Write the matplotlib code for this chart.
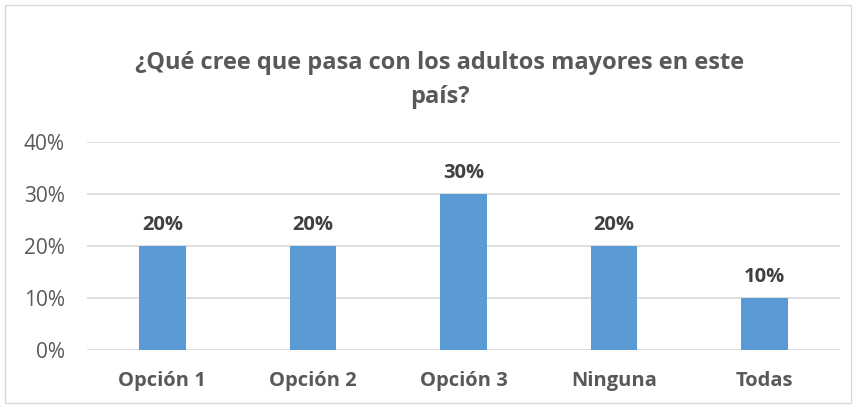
import matplotlib.pyplot as plt
from matplotlib.patches import Rectangle

categorias = ['Opción 1', 'Opción 2', 'Opción 3', 'Ninguna', 'Todas']
valores = [0.20, 0.20, 0.30, 0.20, 0.10]
ticks = [0.0, 0.1, 0.2, 0.3, 0.4]
titulo = '¿Qué cree que pasa con los adultos mayores en este\npaís?'

plt.rcParams['font.family'] = ['Open Sans', 'DejaVu Sans']

fig = plt.figure(figsize=(8.57, 4.08), dpi=100)
ax = fig.add_axes([87/857, 1 - 350/408, (840 - 87)/857, (350 - 142)/408])

x = range(len(categorias))
bars = ax.bar(x, valores, width=0.31, color='#5B9BD5', zorder=3)
for b, v in zip(bars, valores):
    ax.text(b.get_x() + b.get_width()/2, v + 0.022, '{:.0%}'.format(v),
            ha='center', va='bottom', fontsize=14.5, fontweight='bold', color='#404040')

ax.set_xlim(-0.5, len(categorias) - 0.5)
ax.set_ylim(0, 0.4)
ax.set_yticks(ticks)
ax.set_yticklabels(['{:.0%}'.format(t) for t in ticks], fontsize=15, color='#595959')
ax.set_xticks(list(x))
ax.set_xticklabels(categorias, fontsize=14.5, fontweight='bold', color='#595959')
ax.tick_params(axis='both', length=0)
ax.tick_params(axis='y', pad=16)
ax.tick_params(axis='x', pad=15)
ax.yaxis.grid(True, color='#D9D9D9', linewidth=1.2, zorder=0)
for s in ax.spines.values():
    s.set_visible(False)

fig.text(440/857, 1 - 80/408, titulo, ha='center', va='center', fontsize=17,
         fontweight='bold', color='#595959', linespacing=1.55)

fig.patches.append(Rectangle((5/857, 5/408), 846/857, 398/408, transform=fig.transFigure,
                             fill=False, edgecolor='#D9D9D9', linewidth=1))

fig.savefig('out.png', dpi=100)
